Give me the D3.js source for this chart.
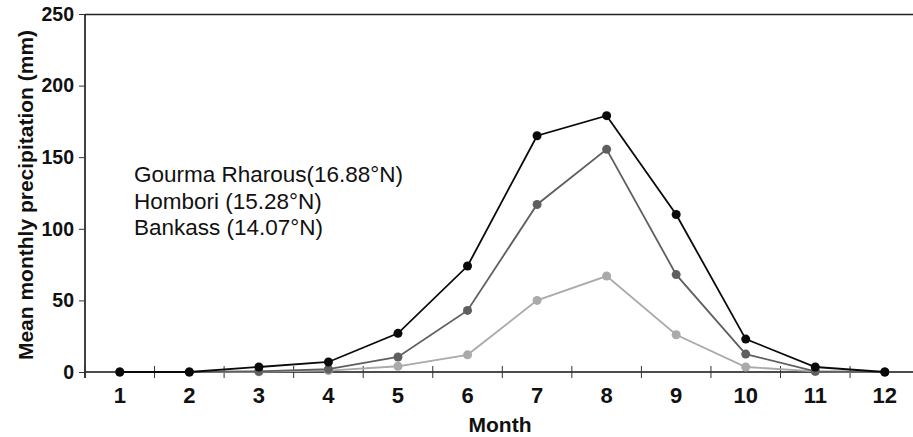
<!DOCTYPE html>
<html>
<head>
<meta charset="utf-8">
<script src="https://cdn.jsdelivr.net/npm/d3@7"></script>
<style>
  html, body { margin: 0; padding: 0; background: #fff; }
  svg { display: block; overflow: hidden; }
  text { font-family: "Liberation Sans", Arial, Helvetica, sans-serif; }
</style>
</head>
<body>
<div id="chart"></div>
<script>
// mean monthly precipitation, three stations
const months = [1, 2, 3, 4, 5, 6, 7, 8, 9, 10, 11, 12];
const gourma = [0, 0, 3.5, 7, 27, 74, 165, 179, 110, 23, 3.5, 0];
const hombori = [0, 0, 0.5, 2, 10.5, 43, 117, 155.5, 68, 12.5, 0.5, 0];
const bankass = [0, 0, 0.2, 1, 4, 12, 50, 67, 26, 3.5, 0.5, 0];
const yTicks = [0, 50, 100, 150, 200, 250];
const legendLabels = ['Gourma Rharous(16.88°N)', 'Hombori (15.28°N)', 'Bankass (14.07°N)'];

const W = 913, H = 437;
const plotLeft = 85, plotTop = 14, plotBottom = 372;
const bandW = 69.55;

const svg = d3.select('#chart').append('svg')
  .attr('width', W)
  .attr('height', H);

const x = d3.scaleLinear().domain([0.5, 12.5]).range([plotLeft, plotLeft + 12 * bandW]);
const y = d3.scaleLinear().domain([0, 250]).range([plotBottom, plotTop]);

// top frame line
svg.append('line')
  .attr('x1', plotLeft).attr('x2', W)
  .attr('y1', plotTop + 0.5).attr('y2', plotTop + 0.5)
  .attr('stroke', '#222').attr('stroke-width', 1.6);

// y axis
const yAxis = svg.append('g')
  .attr('transform', `translate(${plotLeft},0)`)
  .call(d3.axisLeft(y).tickValues(yTicks).tickSize(6).tickPadding(5));
yAxis.select('.domain').attr('d', `M0,${plotTop}V${plotBottom + 6}`).attr('stroke', '#111').attr('stroke-width', 1.6);
yAxis.selectAll('.tick line').attr('stroke', '#333');
yAxis.selectAll('.tick text')
  .attr('font-size', 19.5).attr('font-weight', 'bold').attr('fill', '#111')
  .attr('font-family', '"Liberation Sans", Arial, sans-serif');

// x axis: boundary ticks crossing the line
const bounds = d3.range(0.5, 12.6, 1);
svg.append('line')
  .attr('x1', plotLeft).attr('x2', W)
  .attr('y1', plotBottom).attr('y2', plotBottom)
  .attr('stroke', '#111').attr('stroke-width', 1.4);
svg.append('g').selectAll('line')
  .data(bounds)
  .join('line')
  .attr('x1', d => x(d)).attr('x2', d => x(d))
  .attr('y1', plotBottom - 6).attr('y2', plotBottom + 6)
  .attr('stroke', '#333').attr('stroke-width', 1);

svg.append('g').selectAll('text')
  .data(months)
  .join('text')
  .attr('x', d => x(d))
  .attr('y', 403)
  .attr('text-anchor', 'middle')
  .attr('font-size', 22).attr('font-weight', 'bold').attr('fill', '#111')
  .text(d => d);

// axis titles
svg.append('text')
  .attr('x', 500).attr('y', 432)
  .attr('text-anchor', 'middle')
  .attr('font-size', 21).attr('font-weight', 'bold').attr('fill', '#111')
  .text('Month');

svg.append('text')
  .attr('transform', 'translate(33,195) rotate(-90)')
  .attr('text-anchor', 'middle')
  .attr('font-size', 21).attr('font-weight', 'bold').attr('fill', '#111')
  .text('Mean monthly precipitation (mm)');

// series, lightest first so black sits on top
const series = [
  { values: bankass, color: '#aaaaaa' },
  { values: hombori, color: '#5f5f5f' },
  { values: gourma, color: '#0a0a0a' }
];
const line = d3.line().x((d, i) => x(months[i])).y(d => y(d));

series.forEach(s => {
  svg.append('path')
    .datum(s.values)
    .attr('fill', 'none')
    .attr('stroke', s.color)
    .attr('stroke-width', 1.8)
    .attr('d', line);
  svg.append('g').selectAll('circle')
    .data(s.values)
    .join('circle')
    .attr('cx', (d, i) => x(months[i]))
    .attr('cy', d => y(d))
    .attr('r', 4.5)
    .attr('fill', s.color);
});

// legend (plain text)
svg.append('g').selectAll('text')
  .data(legendLabels)
  .join('text')
  .attr('x', 134)
  .attr('y', (d, i) => 182 + i * 26.7)
  .attr('font-size', 22.5).attr('fill', '#111')
  .text(d => d);
</script>
</body>
</html>
